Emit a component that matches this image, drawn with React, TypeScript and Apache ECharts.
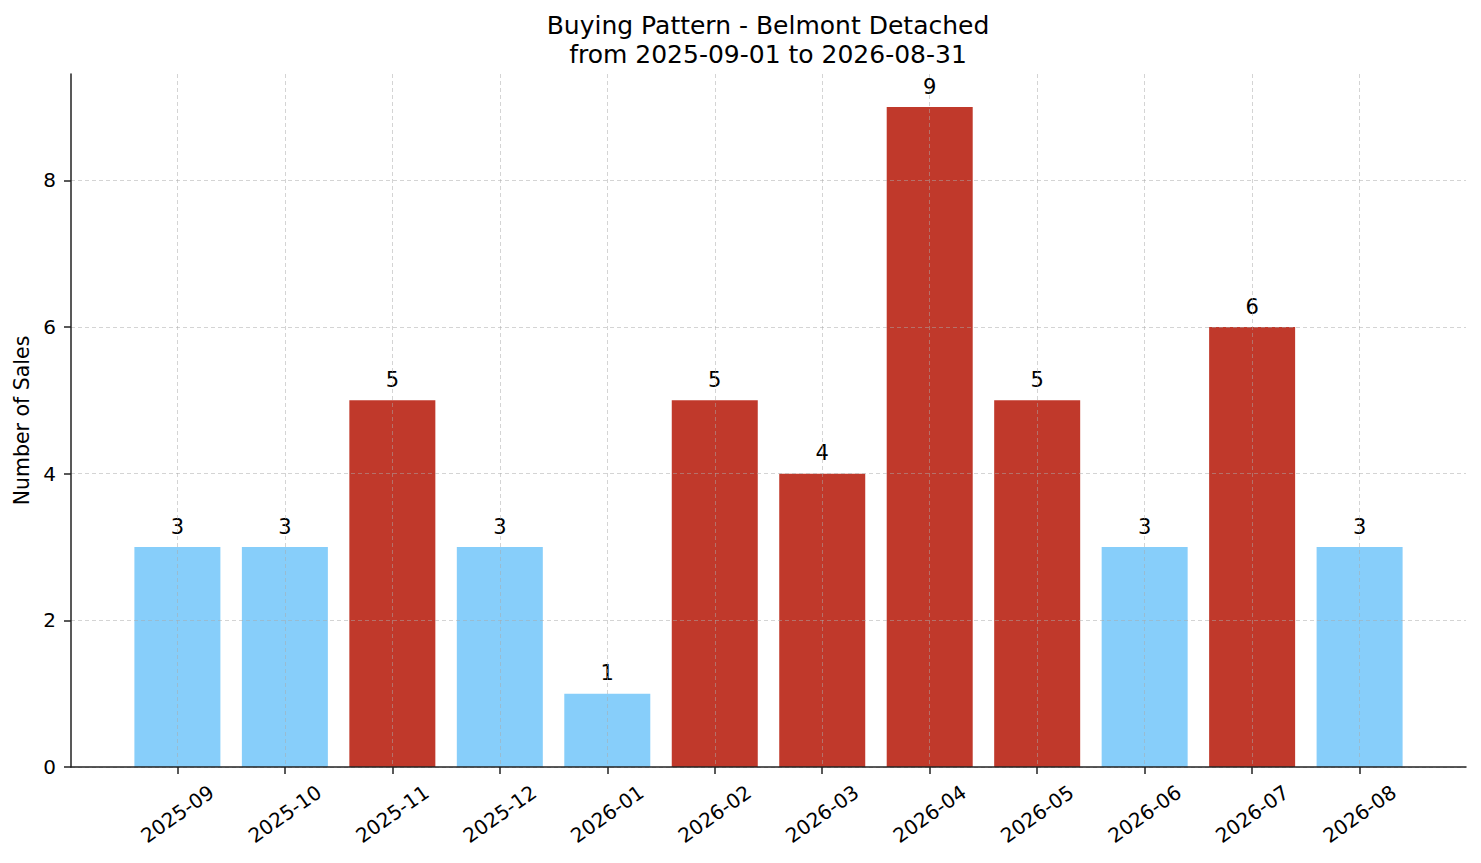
import React, { useEffect, useRef } from 'react';
import * as echarts from 'echarts';

// Monthly sales counts, Belmont Detached
const months = [
  '2025-09', '2025-10', '2025-11', '2025-12', '2026-01', '2026-02',
  '2026-03', '2026-04', '2026-05', '2026-06', '2026-07', '2026-08',
];
const sales = [3, 3, 5, 3, 1, 5, 4, 9, 5, 3, 6, 3];
const yTicks = [0, 2, 4, 6, 8];

const HIGH = '#c0392b';
const LOW = '#87cefa';
const FONT = 'DejaVu Sans';

const App: React.FC = () => {
  const chartRef = useRef<HTMLDivElement>(null);

  useEffect(() => {
    if (!chartRef.current) return;
    const chart = echarts.init(chartRef.current, undefined, { renderer: 'svg' });

    const gridLine = { show: true, lineStyle: { color: 'rgba(170,170,170,0.5)', type: [4, 3], width: 1 } };
    const xPositions = months.map((_, i) => i);

    const option: echarts.EChartsOption = {
      animation: false,
      backgroundColor: '#fff',
      textStyle: { fontFamily: FONT },
      title: {
        text: 'Buying Pattern - Belmont Detached\nfrom 2025-09-01 to 2026-08-31',
        left: 763,
        top: 6,
        textAlign: 'center',
        textStyle: { fontFamily: FONT, fontSize: 25, fontWeight: 'normal', color: '#000', lineHeight: 29 },
      },
      grid: { left: 71, right: 15, top: 74, bottom: 96 },
      xAxis: {
        type: 'value',
        min: -0.99,
        max: 11.99,
        z: 3,
        axisLine: { show: true, onZero: false, lineStyle: { color: '#222', width: 1.5 } },
        axisTick: {
          show: true,
          length: 7,
          lineStyle: { color: '#222', width: 1.5 },
          customValues: xPositions,
        },
        axisLabel: {
          customValues: xPositions,
          formatter: (v: number) => months[Math.round(v)] ?? '',
          rotate: 35,
          align: 'center',
          verticalAlign: 'middle',
          margin: 47,
          color: '#000',
          fontSize: 20,
          fontFamily: FONT,
        },
        splitLine: gridLine,
      },
      yAxis: {
        type: 'value',
        min: 0,
        max: 9.45,
        z: 3,
        name: 'Number of Sales',
        nameLocation: 'middle',
        nameGap: 37,
        nameTextStyle: { fontFamily: FONT, fontSize: 20.5, color: '#000' },
        axisLine: { show: true, onZero: false, lineStyle: { color: '#222', width: 1.5 } },
        axisTick: { show: true, length: 7, lineStyle: { color: '#222', width: 1.5 }, customValues: yTicks },
        axisLabel: {
          customValues: yTicks,
          color: '#000',
          fontSize: 20,
          fontFamily: FONT,
          margin: 15,
        },
        splitLine: gridLine,
      },
      series: [
        {
          type: 'bar',
          barWidth: 86,
          data: sales.map((v, i) => ({
            value: [i, v],
            itemStyle: { color: v > 3 ? HIGH : LOW },
          })),
          label: {
            show: true,
            position: 'top',
            distance: 10,
            color: '#000',
            fontSize: 21,
            fontFamily: FONT,
            formatter: (p: any) => String(p.value[1]),
          },
        },
      ],
    };

    chart.setOption(option);
    return () => chart.dispose();
  }, []);

  return <div ref={chartRef} style={{ width: 1481, height: 863, margin: -8 }} />;
};

export default App;
